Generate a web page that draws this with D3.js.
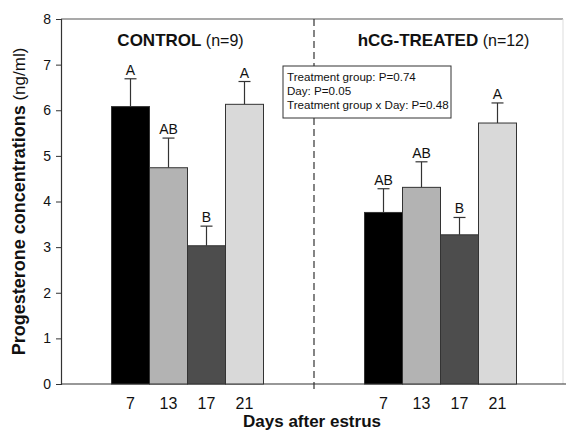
<!DOCTYPE html>
<html>
<head>
<meta charset="utf-8">
<script src="https://cdn.jsdelivr.net/npm/d3@7"></script>
<style>
  body { margin: 0; background: #fff; }
  text { font-family: "Liberation Sans", Arial, sans-serif; fill: #111; }
</style>
</head>
<body>
<div class="chart"></div>
<script>
var w = 566,
    h = 432;

// data
var groups = ["CONTROL", "hCG-TREATED"];
var groupN = ["(n=9)", "(n=12)"];
var days = ["7", "13", "17", "21"];
var means = {
  "CONTROL": [6.08, 4.74, 3.03, 6.13],
  "hCG-TREATED": [3.76, 4.31, 3.27, 5.72]
};
var sems = {
  "CONTROL": [0.61, 0.65, 0.43, 0.50],
  "hCG-TREATED": [0.52, 0.56, 0.38, 0.44]
};
var letters = {
  "CONTROL": ["A", "AB", "B", "A"],
  "hCG-TREATED": ["AB", "AB", "B", "A"]
};
var yTicks = [0, 1, 2, 3, 4, 5, 6, 7, 8];
var statLines = ["Treatment group: P=0.74", "Day: P=0.05", "Treatment group x Day: P=0.48"];
var color = ["#000000", "#b3b3b3", "#4d4d4d", "#d9d9d9"];

var pLeft = 61, pRight = 563, pTop = 19, pBottom = 384;
var titleShift = [-7, 3];

var svg = d3.select("body").select(".chart").append("svg")
  .attr("width", w)
  .attr("height", h);

var y = d3.scaleLinear().domain([0, 8]).range([pBottom, pTop]);
var xGroup = d3.scaleBand().domain(groups).range([pLeft, 567]).padding(0);
var xDay = d3.scaleBand().domain(days).range([-76, 76]).padding(0);

// frame
svg.append("line").attr("x1", pLeft).attr("x2", pRight).attr("y1", pTop).attr("y2", pTop)
  .attr("stroke", "#555").attr("stroke-width", 1.2);
svg.append("line").attr("x1", pRight).attr("x2", pRight).attr("y1", pTop).attr("y2", pBottom)
  .attr("stroke", "#ddd").attr("stroke-width", 1);

// y axis
var yAxis = svg.append("g")
  .attr("transform", "translate(" + pLeft + ",0)")
  .call(d3.axisLeft(y).tickValues(yTicks).tickSize(5).tickPadding(5));
yAxis.select(".domain").attr("stroke", "#333").attr("stroke-width", 1.2);
yAxis.selectAll(".tick line").attr("stroke", "#333");
yAxis.selectAll(".tick text").style("font-size", "14px")
  .style("font-family", "'Liberation Sans', Arial, sans-serif").attr("fill", "#111");

// x axis line
svg.append("line").attr("x1", pLeft).attr("x2", w).attr("y1", pBottom).attr("y2", pBottom)
  .attr("stroke", "#333").attr("stroke-width", 1.2);

// divider
var divX = xGroup("hCG-TREATED");
svg.append("line").attr("x1", divX).attr("x2", divX).attr("y1", pTop).attr("y2", pBottom + 5)
  .attr("stroke", "#333").attr("stroke-width", 1.2).attr("stroke-dasharray", "7,4");

// bars
groups.forEach(function(g, gi) {
  var cx = xGroup(g) + xGroup.bandwidth() / 2;
  var gg = svg.append("g").attr("transform", "translate(" + cx + ",0)");

  // error bars
  gg.selectAll("line.err")
    .data(days)
    .enter()
    .append("line")
    .attr("x1", function(d) { return xDay(d) + xDay.bandwidth() / 2; })
    .attr("x2", function(d) { return xDay(d) + xDay.bandwidth() / 2; })
    .attr("y1", function(d, i) { return y(means[g][i]); })
    .attr("y2", function(d, i) { return y(means[g][i] + sems[g][i]); })
    .attr("stroke", "#333").attr("stroke-width", 1.2);
  gg.selectAll("line.cap")
    .data(days)
    .enter()
    .append("line")
    .attr("x1", function(d) { return xDay(d) + xDay.bandwidth() / 2 - 6; })
    .attr("x2", function(d) { return xDay(d) + xDay.bandwidth() / 2 + 6; })
    .attr("y1", function(d, i) { return y(means[g][i] + sems[g][i]); })
    .attr("y2", function(d, i) { return y(means[g][i] + sems[g][i]); })
    .attr("stroke", "#333").attr("stroke-width", 1.2);

  gg.selectAll("rect")
    .data(days)
    .enter()
    .append("rect")
    .attr("x", function(d) { return xDay(d); })
    .attr("width", xDay.bandwidth())
    .attr("y", function(d, i) { return y(means[g][i]); })
    .attr("height", function(d, i) { return pBottom - y(means[g][i]); })
    .style("fill", function(d, i) { return color[i]; })
    .attr("stroke", "#333").attr("stroke-width", 1);

  gg.selectAll("text.letter")
    .data(days)
    .enter()
    .append("text")
    .attr("x", function(d) { return xDay(d) + xDay.bandwidth() / 2; })
    .attr("y", function(d, i) { return y(means[g][i] + sems[g][i]) - 4; })
    .attr("text-anchor", "middle")
    .style("font-size", "14px")
    .text(function(d, i) { return letters[g][i]; });

  gg.selectAll("text.day")
    .data(days)
    .enter()
    .append("text")
    .attr("x", function(d) { return xDay(d) + xDay.bandwidth() / 2; })
    .attr("y", pBottom + 25)
    .attr("text-anchor", "middle")
    .style("font-size", "16px")
    .text(function(d) { return d; });

  var t = gg.append("text")
    .attr("x", titleShift[gi])
    .attr("y", 46)
    .attr("text-anchor", "middle");
  t.append("tspan").style("font-weight", "bold").style("font-size", "17px").text(g);
  t.append("tspan").style("font-size", "16px").text(" " + groupN[gi]);
});

// stats box
svg.append("rect").attr("x", 283).attr("y", 66).attr("width", 168).attr("height", 52)
  .attr("fill", "#fff").attr("stroke", "#333").attr("stroke-width", 1);
svg.selectAll("text.stat")
  .data(statLines)
  .enter()
  .append("text")
  .attr("x", 287)
  .attr("y", function(d, i) { return 81 + i * 14; })
  .style("font-size", "11.6px")
  .text(function(d) { return d; });

// axis titles
svg.append("text")
  .attr("x", 312).attr("y", 427)
  .attr("text-anchor", "middle")
  .style("font-weight", "bold").style("font-size", "17px")
  .text("Days after estrus");

var yt = svg.append("text")
  .attr("transform", "translate(25," + ((pTop + pBottom) / 2) + ") rotate(-90)")
  .attr("text-anchor", "middle");
yt.append("tspan").style("font-weight", "bold").style("font-size", "18px").text("Progesterone concentrations");
yt.append("tspan").style("font-size", "17px").text(" (ng/ml)");
</script>
</body>
</html>
